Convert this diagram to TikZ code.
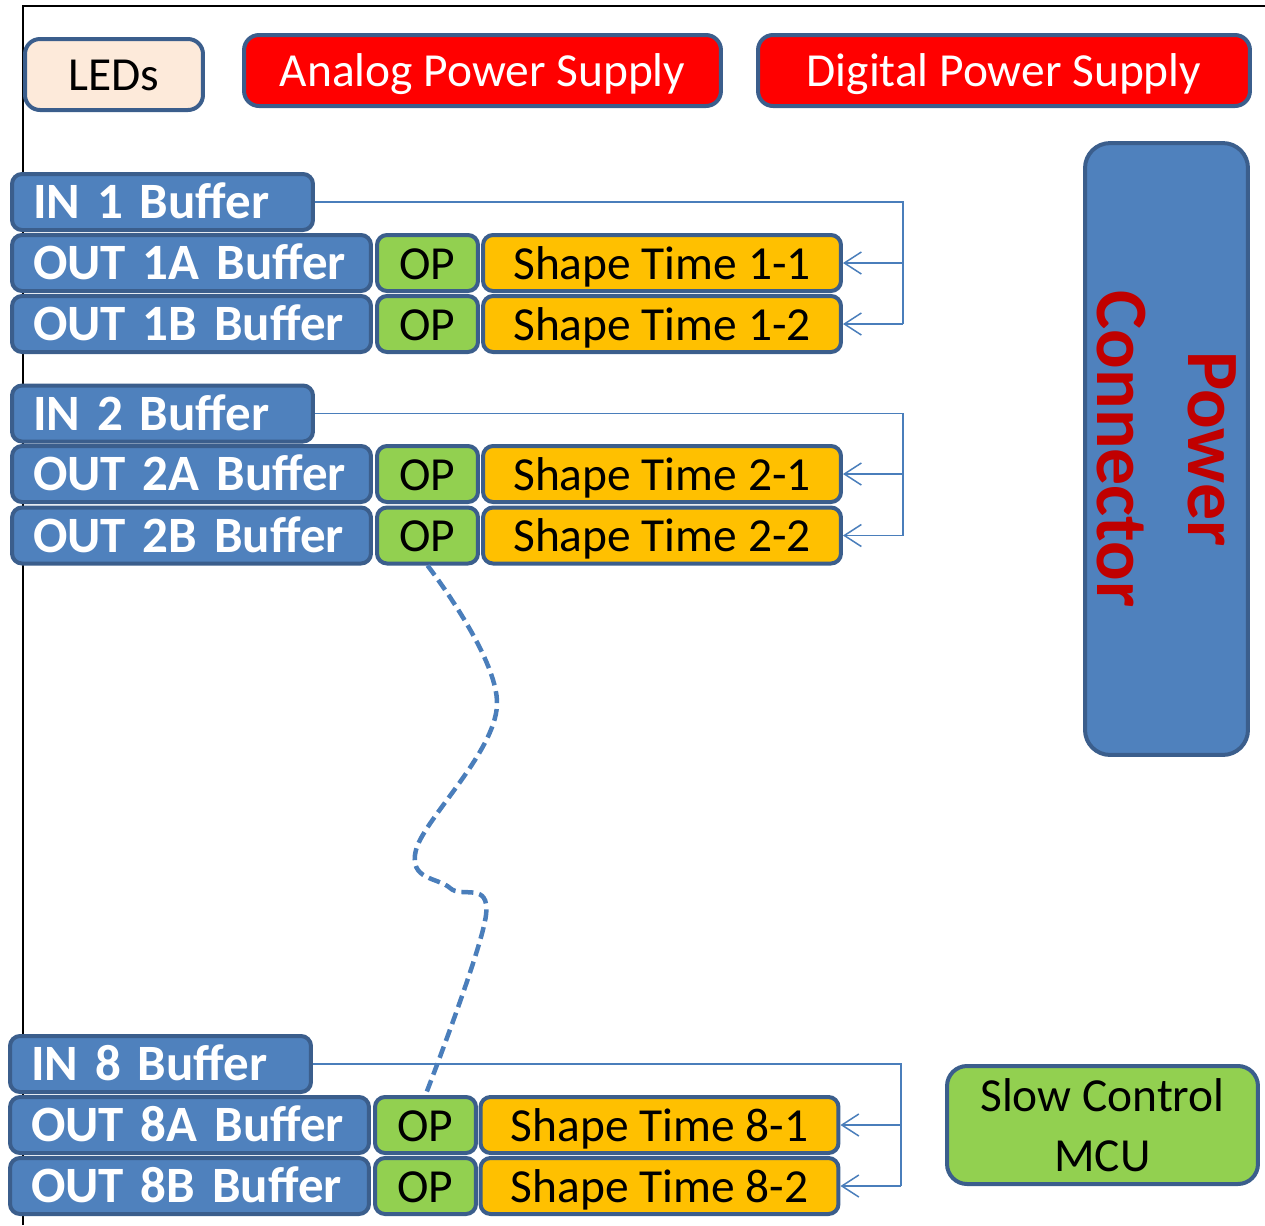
\documentclass[tikz,border=0pt]{standalone}
\usepackage{fontspec}
\setmainfont{Carlito}
\usepackage{xcolor}
\usepackage{tikz}
\usetikzlibrary{arrows.meta,positioning,calc}

\definecolor{bordblue}{HTML}{3B5E8C}
\definecolor{fillblue}{HTML}{4F81BD}
\definecolor{wireblue}{HTML}{4A7EBB}
\definecolor{opgreen}{HTML}{92D050}
\definecolor{storange}{HTML}{FFC000}
\definecolor{ledpeach}{HTML}{FDEADA}
\definecolor{supplyred}{HTML}{FF0000}
\definecolor{darkred}{HTML}{C00000}

\begin{document}
\begin{tikzpicture}[x=0.02cm, y=-0.02cm,
    box/.style={draw=bordblue, line width=0.08cm, rounded corners=0.2cm, inner sep=0pt, minimum height=1.12cm},
    oneline/.style={text height=18.5pt, text depth=0pt},
    buffer/.style={box, fill=fillblue, text=white, font=\fontsize{29}{35}\selectfont\bfseries, align=left, text width=#1, inner xsep=0.42cm,
                   text height=19.2pt, text depth=0pt},
    opbox/.style={box, oneline, fill=opgreen, minimum width=2.02cm, font=\fontsize{27}{32}\selectfont},
    shapebox/.style={box, oneline, fill=storange, minimum width=7.16cm, font=\fontsize{27}{32}\selectfont},
    topbox/.style={box, oneline, minimum height=1.42cm, rounded corners=0.3cm, font=\fontsize{27}{32}\selectfont},
    link/.style={wireblue, line width=0.03cm},
    feed/.style={link, -{Straight Barb[length=0.34cm,width=0.44cm]}},
    dashlink/.style={wireblue, line width=0.09cm, dash pattern=on 0.24cm off 0.12cm}]
    \useasboundingbox (0,0) rectangle (1265,1225);

    % Board outline
    \draw[line width=0.04cm] (23,1225) -- (23,6) -- (1265,6);

    % Top row: LEDs and supplies
    \node[topbox, fill=ledpeach, minimum width=3.56cm] (leds) at (114,74.5) {LEDs};
    \node[topbox, fill=supplyred, text=white, minimum width=9.54cm] (analog) at (482.5,70.5) {Analog Power Supply};
    \node[topbox, fill=supplyred, text=white, minimum width=9.84cm] (digital) at (1004,70.5) {Digital Power Supply};

    % Power connector
    \node[box, fill=fillblue, rotate=-90, minimum width=12.24cm, minimum height=3.26cm, rounded corners=0.5cm,
          text=darkred, font=\fontsize{42}{52}\selectfont\bfseries, align=center] (pwr) at (1166.5,449) {Power\\Connector};

    % Channel 1
    \node[buffer=5.18cm] (in1) at (162.5,202) {IN~1~Buffer};
    \node[buffer=6.34cm] (out1a) at (191.5,263) {OUT~1A~Buffer};
    \node[buffer=6.34cm] (out1b) at (191.5,324) {OUT~1B~Buffer};
    \node[opbox] (op1a) at (427.5,263) {OP};
    \node[opbox] (op1b) at (427.5,324) {OP};
    \node[shapebox] (st11) at (662,263) {Shape Time 1-1};
    \node[shapebox] (st12) at (662,324) {Shape Time 1-2};

    % Channel 2
    \node[buffer=5.18cm] (in2) at (162.5,413.5) {IN~2~Buffer};
    \node[buffer=6.34cm] (out2a) at (191.5,474) {OUT~2A~Buffer};
    \node[buffer=6.34cm] (out2b) at (191.5,535.5) {OUT~2B~Buffer};
    \node[opbox] (op2a) at (427.5,474) {OP};
    \node[opbox] (op2b) at (427.5,535.5) {OP};
    \node[shapebox] (st21) at (662,474) {Shape Time 2-1};
    \node[shapebox] (st22) at (662,535.5) {Shape Time 2-2};

    % Channel 8
    \node[buffer=5.18cm] (in8) at (160.5,1064) {IN~8~Buffer};
    \node[buffer=6.34cm] (out8a) at (189.5,1125) {OUT~8A~Buffer};
    \node[buffer=6.34cm] (out8b) at (189.5,1186) {OUT~8B~Buffer};
    \node[opbox] (op8a) at (425.5,1125) {OP};
    \node[opbox] (op8b) at (425.5,1186) {OP};
    \node[shapebox] (st81) at (659.5,1125) {Shape Time 8-1};
    \node[shapebox] (st82) at (659.5,1186) {Shape Time 8-2};

    % Slow control
    \node[box, fill=opgreen, minimum width=6.22cm, minimum height=2.36cm, rounded corners=0.4cm,
          font=\fontsize{27}{34}\selectfont, align=center] (mcu) at (1102.5,1125) {Slow Control\\MCU};

    % Input feeds to the shapers
    \coordinate (bus1) at (903,0);
    \coordinate (bus8) at (901,0);
    \draw[link] (in1.east) -- (in1.east -| bus1) -- (st12.east -| bus1);
    \draw[feed] (st11.east -| bus1) -- (st11.east);
    \draw[feed] (st12.east -| bus1) -- (st12.east);
    \draw[link] (in2.east) -- (in2.east -| bus1) -- (st22.east -| bus1);
    \draw[feed] (st21.east -| bus1) -- (st21.east);
    \draw[feed] (st22.east -| bus1) -- (st22.east);
    \draw[link] (in8.east) -- (in8.east -| bus8) -- (st82.east -| bus8);
    \draw[feed] (st81.east -| bus8) -- (st81.east);
    \draw[feed] (st82.east -| bus8) -- (st82.east);

    % Channels 3 to 7 skipped
    \draw[dashlink] plot[smooth, tension=0.6] coordinates {(op2b.south) (497,705) (416,850) (450,888) (486,915) (op8a.north)};
\end{tikzpicture}
\end{document}
